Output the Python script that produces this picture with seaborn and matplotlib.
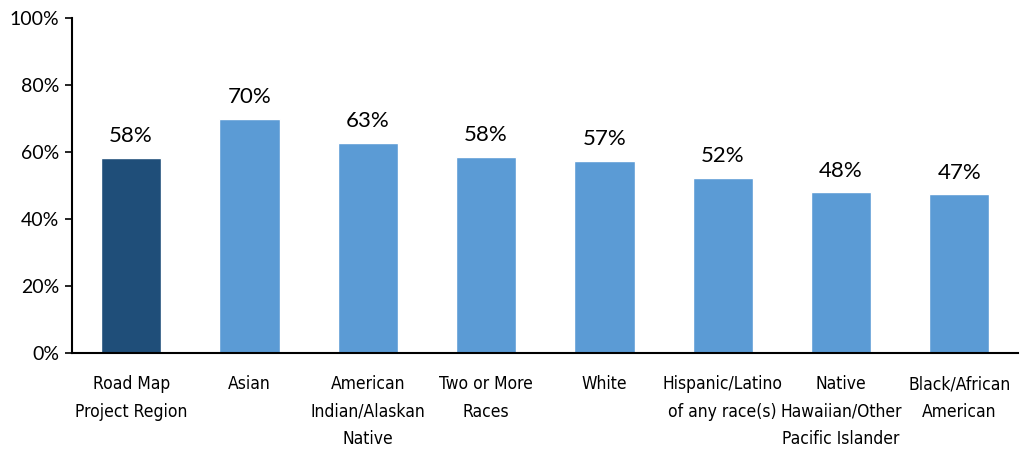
import matplotlib
matplotlib.use("Agg")
import matplotlib.pyplot as plt
import seaborn as sns
import pandas as pd
from matplotlib.ticker import PercentFormatter

categories = ["Road Map\nProject Region", "Asian", "American\nIndian/Alaskan\nNative",
              "Two or More\nRaces", "White", "Hispanic/Latino\nof any race(s)",
              "Native\nHawaiian/Other\nPacific Islander", "Black/African\nAmerican"]
values = [58.2, 69.9, 62.7, 58.5, 57.5, 52.4, 48.0, 47.4]
labels = ["58%", "70%", "63%", "58%", "57%", "52%", "48%", "47%"]
colors = ["#1F4E79"] + ["#5B9BD5"] * 7

df = pd.DataFrame({"group": categories, "value": values})

sns.set_style("white")
plt.rcParams["font.family"] = ["Lato", "DejaVu Sans"]

fig = plt.figure(figsize=(10.21, 4.55), dpi=100)
ax = fig.add_axes([0.0705, 0.224, 0.927, 0.736])

sns.barplot(data=df, x="group", y="value", hue="group", palette=colors,
            legend=False, width=0.51, saturation=1, ax=ax)

for i, (v, lab) in enumerate(zip(values, labels)):
    ax.text(i, v + 3.5, lab, ha="center", va="bottom", fontsize=16, color="black")

ax.set_ylim(0, 100)
ax.set_yticks(range(0, 101, 20))
ax.yaxis.set_major_formatter(PercentFormatter(decimals=0))
ax.tick_params(axis="y", labelsize=14, length=5, width=1.2, color="black", direction="out", left=True, pad=4)
ax.tick_params(axis="x", length=0, pad=16)
for t in ax.get_yticklabels():
    t.set_color("black")
for t in ax.get_xticklabels():
    t.set_family(["DejaVu Sans"])
    t.set_stretch("condensed")
    t.set_fontsize(12.5)
    t.set_color("black")
    t.set_linespacing(1.68)
ax.set_xlabel("")
ax.set_ylabel("")
for s in ["top", "right"]:
    ax.spines[s].set_visible(False)
for s in ["left", "bottom"]:
    ax.spines[s].set_color("black")
    ax.spines[s].set_linewidth(1.5)

fig.savefig("out.png", dpi=100)
